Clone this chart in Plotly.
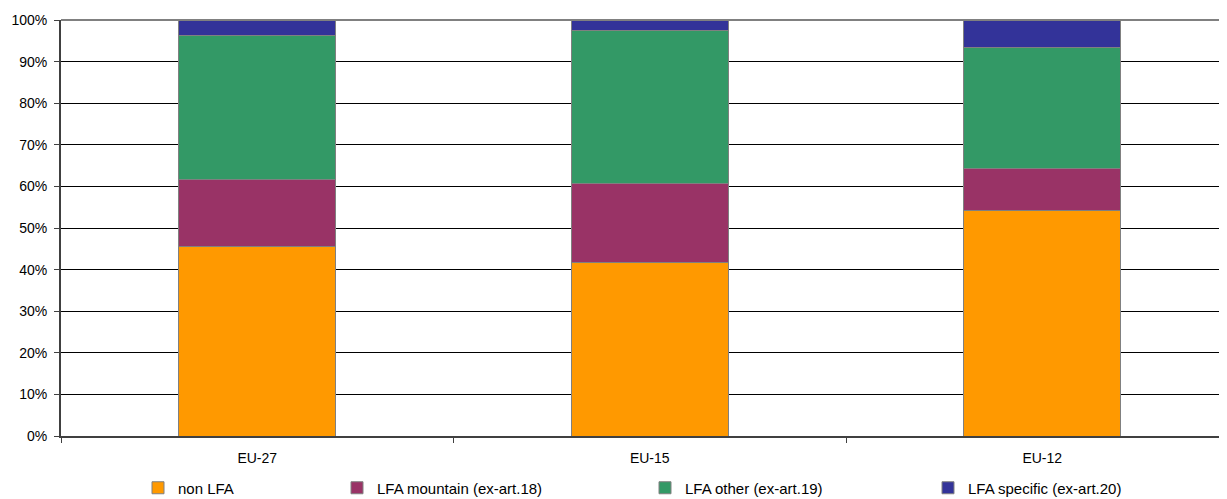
import plotly.graph_objects as go

categories = ["EU-27", "EU-15", "EU-12"]
series_names = ["non LFA", "LFA mountain (ex-art.18)", "LFA other (ex-art.19)", "LFA specific (ex-art.20)"]
non_lfa = [0.456, 0.418, 0.543]
lfa_mountain = [0.161, 0.189, 0.100]
lfa_other = [0.345, 0.367, 0.292]
lfa_specific = [0.038, 0.026, 0.065]
colors = ["#FF9900", "#993366", "#339966", "#333399"]
y_ticks = [0, 0.1, 0.2, 0.3, 0.4, 0.5, 0.6, 0.7, 0.8, 0.9, 1.0]

OFF = 8  # default page body margin
W, H = 1227 - OFF, 499 - OFF
L, R, T = 61 - OFF, 0, 20 - OFF
B = H - (436 - OFF)
pw = W - L - R
ph = H - T - B

fig = go.Figure()
values = [non_lfa, lfa_mountain, lfa_other, lfa_specific]
legend_ids = ["legend", "legend2", "legend3", "legend4"]
for name, vals, col, lg in zip(series_names, values, colors, legend_ids):
    fig.add_trace(go.Bar(
        x=categories, y=vals, name=name, width=0.4,
        marker=dict(color=col, line=dict(color="#808080", width=1)),
        legend=lg,
    ))

font = dict(family="Liberation Sans, Arial, sans-serif", size=14, color="#000000")
legend_font = dict(family="Liberation Sans, Arial, sans-serif", size=15, color="#000000")

# legend text start positions in page pixels
legend_text_px = [178, 377, 685, 968]
legends = {}
for lg, px in zip(legend_ids, legend_text_px):
    legends[lg] = dict(
        x=(px - OFF - 40 - L) / pw, xanchor="left", xref="paper",
        y=(T + ph - (488 - OFF)) / ph, yanchor="middle", yref="paper",
        orientation="h", font=legend_font, bgcolor="rgba(0,0,0,0)",
        borderwidth=0, itemclick=False, itemdoubleclick=False,
    )

fig.update_layout(
    width=W, height=H,
    margin=dict(l=L, r=R, t=T, b=B, pad=0, autoexpand=False),
    barmode="stack",
    plot_bgcolor="#FFFFFF", paper_bgcolor="#FFFFFF",
    font=font,
    showlegend=True,
    **legends,
)
fig.update_xaxes(
    type="category", range=[-0.5, -0.5 + pw / 392.5],
    tickson="boundaries", ticks="outside", ticklen=5, tickcolor="#404040",
    showline=True, linecolor="#404040", linewidth=2,
    showgrid=False, tickfont=font, fixedrange=True, automargin=False,
    ticklabelstandoff=8,
)
fig.update_yaxes(
    range=[0, 1], tickvals=y_ticks, tickformat=".0%",
    ticks="outside", ticklen=5, tickcolor="#404040",
    showline=True, linecolor="#404040", linewidth=2,
    showgrid=True, gridcolor="#000000", gridwidth=1,
    zeroline=False, tickfont=font, fixedrange=True, automargin=False,
    ticklabelstandoff=4,
)
fig.add_shape(type="line", xref="paper", yref="paper", x0=0, x1=1, y0=1, y1=1,
              line=dict(color="#808080", width=2), layer="below")

fig.write_html("out.html")
